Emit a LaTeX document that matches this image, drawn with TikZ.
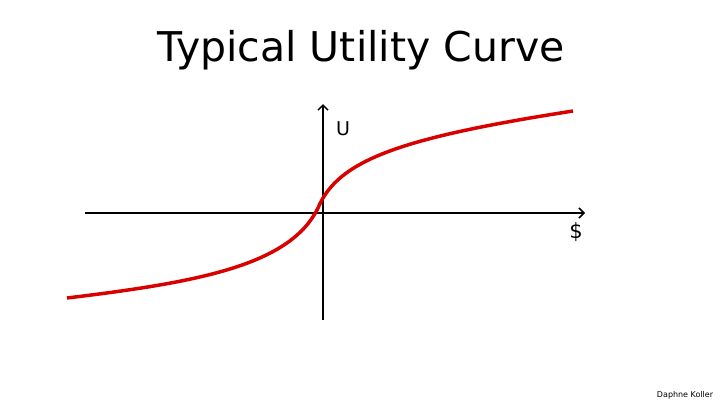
\documentclass[tikz,border=0pt]{standalone}
\usepackage{fontspec}
\usetikzlibrary{arrows.meta}
\setmainfont{DejaVu Sans}
\begin{document}
\begin{tikzpicture}[x=1pt,y=-1pt,
  axis/.style={line width=1.5pt,-{Straight Barb[length=5pt]}},
  curve/.style={line width=3.5pt,red!85!black}]
\useasboundingbox (0,0) rectangle (720,405);
\node (title) at (361,50) {\fontsize{41}{46}\selectfont Typical Utility Curve};
\coordinate (xl) at (85,213); \coordinate (xr) at (585,213);
\coordinate (yb) at (323,320); \coordinate (yt) at (323,104);
\draw[axis] (xl) -- (xr);
\draw[axis] (yb) -- (yt);
\node (u) at (343,129) {\fontsize{19}{21}\selectfont U};
\node (d) at (576,232) {\fontsize{21}{23}\selectfont \$};
\draw[curve] (67,298) .. controls (200,282) and (290,265) .. (318,208)
  .. controls (338,160) and (400,138) .. (573,111);
\node (auth) at (685,395) {\fontsize{8}{9}\selectfont Daphne Koller};
\end{tikzpicture}
\end{document}
